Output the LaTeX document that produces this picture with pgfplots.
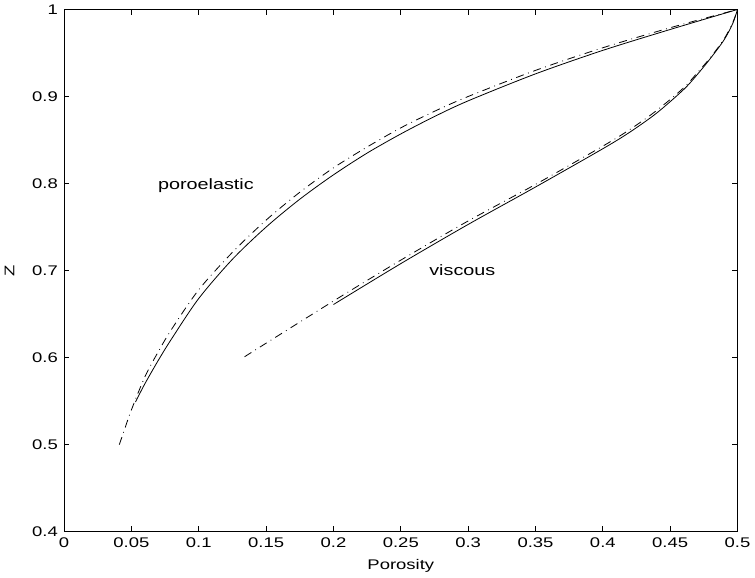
\documentclass[border=0pt]{standalone}
\usepackage{pgfplots}
\pgfplotsset{compat=1.18}
\usepackage{fontspec}
\setmainfont[FakeStretch=1.32]{Liberation Sans}

\begin{document}
\fontsize{10.5}{12}\selectfont
\begin{tikzpicture}
\begin{axis}[
    scale only axis,
    width=505.5pt,
    height=392pt,
    xmin=0, xmax=0.5,
    ymin=0.4, ymax=1,
    xtick={0,0.05,...,0.5},
    ytick={0.4,0.5,...,1},
    xticklabels={0,0.05,0.1,0.15,0.2,0.25,0.3,0.35,0.4,0.45,0.5},
    yticklabels={0.4,0.5,0.6,0.7,0.8,0.9,1},
    tick align=inside,
    tick pos=both,
    major tick length=4pt,
    axis line style={line width=0.6pt},
    tick style={line width=0.5pt, black},
    xlabel={Porosity},
    ylabel={Z},
    xlabel style={at={([yshift=-26pt]axis description cs:0.5,0)}, anchor=center},
    ylabel style={at={([xshift=-41pt]axis description cs:0,0.5)}, anchor=center},
    xticklabel style={yshift=-1pt},
    yticklabel style={xshift=-1pt},
    tick label style={font=\fontsize{10.5}{12}\selectfont},
    label style={font=\fontsize{10.5}{12}\selectfont},
    /pgf/number format/assume math mode=true,
    clip=false,
]
% poroelastic, solid
\addplot[black, line width=0.6pt, smooth] coordinates {
    (0.053,0.549) (0.06,0.570) (0.07,0.597) (0.08,0.622) (0.1,0.668) (0.125,0.713)
    (0.15,0.750) (0.175,0.782) (0.2,0.810) (0.225,0.835) (0.25,0.857)
    (0.275,0.877) (0.3,0.895) (0.35,0.926) (0.4,0.953) (0.45,0.977) (0.5,1.0)
};
% poroelastic, dash-dot
\addplot[black, line width=0.6pt, smooth, dash pattern=on 6pt off 3.5pt on 0.6pt off 3.5pt] coordinates {
    (0.041,0.500) (0.045,0.518) (0.05,0.540) (0.06,0.578) (0.07,0.607) (0.08,0.633) (0.1,0.678)
    (0.125,0.721) (0.15,0.758) (0.175,0.790) (0.2,0.818) (0.225,0.842) (0.25,0.864)
    (0.275,0.883) (0.3,0.900) (0.35,0.930) (0.4,0.956) (0.45,0.979) (0.5,1.0)
};
% viscous, solid
\addplot[black, line width=0.6pt, smooth] coordinates {
    (0.2,0.661) (0.25,0.708) (0.3,0.753) (0.35,0.796) (0.4,0.840)
    (0.42,0.859) (0.44,0.881) (0.46,0.908) (0.47,0.925) (0.48,0.944)
    (0.49,0.965) (0.4965,0.984) (0.5,1.0)
};
% viscous, dash-dot
\addplot[black, line width=0.6pt, smooth, dash pattern=on 6pt off 3.5pt on 0.6pt off 3.5pt] coordinates {
    (0.134,0.601) (0.2,0.665) (0.25,0.712) (0.3,0.757) (0.35,0.799)
    (0.4,0.843) (0.42,0.862) (0.44,0.884) (0.46,0.910) (0.47,0.927) (0.48,0.945)
    (0.49,0.966) (0.4965,0.985) (0.5,1.0)
};
\node[anchor=west, inner sep=0pt, font=\fontsize{11.25}{13}\selectfont] at (axis cs:0.0696,0.798) {poroelastic};
\node[anchor=west, inner sep=0pt, font=\fontsize{11.25}{13}\selectfont] at (axis cs:0.271,0.701) {viscous};
\end{axis}
\end{tikzpicture}
\end{document}
